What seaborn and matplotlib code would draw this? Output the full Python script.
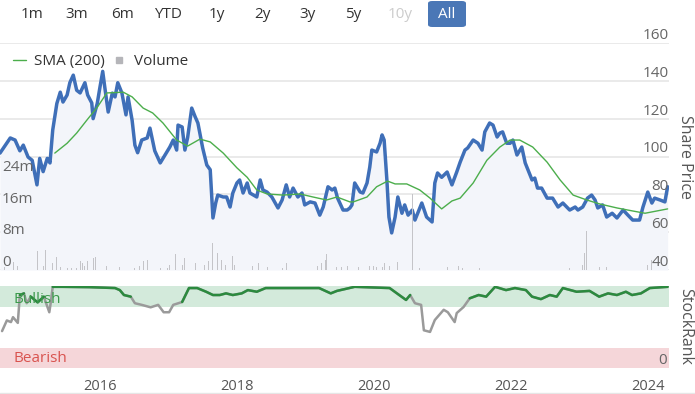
import numpy as np
import pandas as pd
import seaborn as sns
import matplotlib.pyplot as plt
from matplotlib.lines import Line2D
from matplotlib.patches import FancyBboxPatch

# share price (decimal year, price)
price_years = [2014.54, 2014.69, 2014.76, 2014.83, 2014.88, 2014.95, 2015.01, 2015.08, 2015.12, 2015.17,
               2015.23, 2015.27, 2015.31, 2015.37, 2015.42, 2015.46, 2015.52, 2015.56, 2015.61, 2015.66,
               2015.71, 2015.78, 2015.82, 2015.88, 2015.90, 2015.96, 2016.00, 2016.04, 2016.07, 2016.12,
               2016.18, 2016.22, 2016.26, 2016.32, 2016.38, 2016.41, 2016.47, 2016.51, 2016.55, 2016.61,
               2016.69, 2016.73, 2016.80, 2016.88, 2016.95, 2017.02, 2017.07, 2017.12, 2017.14, 2017.20,
               2017.24, 2017.28, 2017.34, 2017.39, 2017.43, 2017.50, 2017.56, 2017.61, 2017.65, 2017.69,
               2017.72, 2017.80, 2017.85, 2017.90, 2017.94, 2018.00, 2018.04, 2018.09, 2018.15, 2018.19,
               2018.29, 2018.34, 2018.38, 2018.44, 2018.51, 2018.60, 2018.66, 2018.72, 2018.77, 2018.82,
               2018.89, 2018.95, 2018.99, 2019.07, 2019.14, 2019.21, 2019.26, 2019.33, 2019.39, 2019.43,
               2019.47, 2019.55, 2019.61, 2019.65, 2019.68, 2019.72, 2019.80, 2019.84, 2019.90, 2019.94,
               2019.97, 2020.04, 2020.09, 2020.12, 2020.15, 2020.19, 2020.22, 2020.26, 2020.31, 2020.35,
               2020.41, 2020.45, 2020.50, 2020.56, 2020.60, 2020.64, 2020.70, 2020.77, 2020.85, 2020.89,
               2020.93, 2020.99, 2021.07, 2021.14, 2021.21, 2021.26, 2021.33, 2021.37, 2021.45, 2021.52,
               2021.58, 2021.62, 2021.69, 2021.74, 2021.80, 2021.84, 2021.88, 2021.94, 2021.99, 2022.03,
               2022.09, 2022.16, 2022.21, 2022.25, 2022.31, 2022.35, 2022.39, 2022.45, 2022.53, 2022.61,
               2022.69, 2022.76, 2022.86, 2022.94, 2022.98, 2023.05, 2023.12, 2023.18, 2023.23, 2023.27,
               2023.34, 2023.40, 2023.48, 2023.55, 2023.64, 2023.71, 2023.78, 2023.88, 2023.93, 2024.00,
               2024.06, 2024.10, 2024.18, 2024.25, 2024.29]
price_vals = [101.8, 109.8, 108.7, 103.0, 106.0, 99.7, 98.0, 85.0, 99.0, 92.0,
              99.0, 96.6, 114.0, 128.0, 134.0, 128.8, 132.5, 139.0, 143.0, 135.0,
              133.6, 139.0, 132.5, 128.3, 120.0, 128.0, 136.7, 145.0, 136.7, 123.5,
              133.5, 131.5, 139.0, 133.6, 122.0, 131.5, 119.0, 106.0, 102.0, 108.7,
              109.8, 115.0, 103.0, 96.6, 100.8, 105.0, 108.7, 103.4, 116.6, 115.6,
              103.4, 110.0, 125.6, 121.0, 117.7, 104.5, 95.5, 93.0, 67.5, 75.4,
              79.6, 78.6, 78.6, 73.3, 80.7, 86.0, 87.6, 80.7, 86.0, 80.7,
              78.6, 87.6, 82.3, 81.2, 78.6, 72.8, 77.0, 85.0, 78.6, 83.3,
              78.6, 80.7, 74.4, 76.0, 75.4, 69.0, 73.3, 84.0, 82.3, 83.3,
              78.0, 71.7, 71.7, 72.8, 74.4, 86.0, 81.2, 80.7, 86.0, 94.4,
              103.4, 102.4, 107.0, 111.4, 108.7, 87.6, 68.0, 59.6, 68.0, 78.6,
              70.0, 74.4, 69.0, 71.7, 66.4, 70.0, 75.4, 68.0, 65.4, 86.0,
              91.3, 89.0, 91.8, 85.0, 91.8, 97.0, 103.4, 104.5, 108.7, 107.0,
              103.4, 113.0, 117.7, 116.6, 110.3, 112.4, 113.0, 107.0, 107.0, 108.7,
              100.8, 105.0, 96.6, 93.0, 87.6, 88.6, 83.3, 83.3, 78.0, 78.0,
              73.3, 75.4, 71.7, 73.3, 71.7, 73.3, 78.0, 79.6, 77.0, 72.8,
              74.4, 68.0, 70.0, 67.5, 71.7, 69.0, 66.4, 66.4, 73.3, 81.2,
              75.4, 78.0, 77.0, 76.0, 84.0]

# 200 day simple moving average
sma_years = [2015.34, 2015.52, 2015.66, 2015.81, 2015.96, 2016.10, 2016.34, 2016.47, 2016.63, 2016.77,
             2016.92, 2017.12, 2017.28, 2017.46, 2017.61, 2017.80, 2018.00, 2018.15, 2018.29, 2018.44,
             2018.67, 2018.92, 2019.11, 2019.31, 2019.46, 2019.65, 2019.70, 2019.90, 2020.04, 2020.20,
             2020.31, 2020.48, 2020.67, 2020.82, 2020.99, 2021.14, 2021.26, 2021.45, 2021.65, 2021.84,
             2021.99, 2022.13, 2022.32, 2022.53, 2022.72, 2022.91, 2023.11, 2023.30, 2023.55, 2023.78,
             2023.96, 2024.29]
sma_vals = [101.8, 107.0, 112.4, 119.3, 126.0, 133.6, 134.0, 131.5, 125.6, 123.0,
            117.7, 108.7, 105.5, 109.2, 107.7, 101.8, 94.0, 89.0, 82.3, 80.2,
            79.6, 80.2, 78.6, 77.0, 78.6, 76.0, 76.0, 78.6, 84.0, 87.0,
            85.5, 85.5, 82.3, 78.0, 72.3, 76.5, 78.0, 86.0, 98.0, 105.0,
            108.7, 108.7, 105.0, 97.0, 87.6, 79.6, 77.0, 74.9, 72.8, 71.2,
            70.0, 72.3]

# StockRank history
rank_years = [2014.57, 2014.64, 2014.70, 2014.73, 2014.80, 2014.83, 2014.89, 2014.93, 2014.99, 2015.09,
              2015.18, 2015.26, 2015.28, 2015.31, 2015.45, 2015.84, 2016.22, 2016.29, 2016.35, 2016.45,
              2016.51, 2016.61, 2016.74, 2016.85, 2016.93, 2017.01, 2017.07, 2017.20, 2017.30, 2017.42,
              2017.55, 2017.65, 2017.75, 2017.84, 2017.94, 2018.07, 2018.16, 2018.29, 2018.42, 2018.74,
              2019.20, 2019.37, 2019.46, 2019.72, 2020.23, 2020.37, 2020.47, 2020.53, 2020.60, 2020.69,
              2020.73, 2020.82, 2020.89, 2021.02, 2021.08, 2021.18, 2021.21, 2021.31, 2021.40, 2021.53,
              2021.64, 2021.77, 2021.93, 2022.06, 2022.22, 2022.31, 2022.44, 2022.57, 2022.67, 2022.76,
              2022.96, 2023.15, 2023.29, 2023.42, 2023.55, 2023.68, 2023.77, 2023.90, 2024.03, 2024.29]
rank_vals = [45, 58, 56, 62, 55, 89, 91, 79, 87, 80,
             87, 68, 79, 99, 99, 98.6, 97.5, 95, 89, 87,
             79, 77, 74, 77, 68, 68, 77, 80.5, 97.5, 97.5,
             93, 89, 89, 91, 89, 91, 95, 93, 97.5, 97.5,
             97.5, 91, 94, 99, 97.5, 89, 83, 89, 79, 77,
             46, 44, 58.5, 71, 68, 56, 67, 74.4, 85, 89,
             87, 99, 95, 97.5, 95, 87, 84, 89, 87, 97.5,
             93, 94, 87, 91, 89, 93, 89, 91, 97.5, 99]

# daily volume, millions of shares
vol_years = [2014.61, 2014.74, 2014.80, 2014.86, 2015.05, 2015.09, 2015.17, 2015.21, 2015.27, 2015.30,
             2015.31, 2015.37, 2015.42, 2015.52, 2015.59, 2015.66, 2015.71, 2015.74, 2015.78, 2015.82,
             2015.87, 2015.90, 2015.93, 2016.03, 2016.09, 2016.16, 2016.29, 2016.41, 2016.51, 2016.58,
             2016.64, 2016.69, 2016.73, 2016.88, 2016.99, 2017.02, 2017.10, 2017.14, 2017.20, 2017.24,
             2017.30, 2017.33, 2017.39, 2017.46, 2017.53, 2017.58, 2017.64, 2017.68, 2017.72, 2017.78,
             2017.83, 2017.90, 2017.94, 2017.97, 2018.09, 2018.23, 2018.31, 2018.41, 2018.45, 2018.67,
             2018.73, 2019.18, 2019.24, 2019.29, 2019.31, 2019.36, 2019.46, 2019.53, 2019.62, 2019.77,
             2019.90, 2019.94, 2019.99, 2020.04, 2020.09, 2020.13, 2020.16, 2020.23, 2020.28, 2020.35,
             2020.57, 2020.67, 2020.79, 2020.85, 2021.01, 2021.08, 2021.23, 2021.30, 2021.54, 2021.74,
             2022.25, 2022.69, 2022.86, 2023.05, 2023.08, 2023.11, 2023.23, 2023.30, 2023.40, 2023.61,
             2023.96, 2024.00, 2024.06]
vol_m = [0.7, 2.0, 1.0, 1.0, 1.3, 4.8, 1.0, 5.0, 1.3, 3.0,
         1.8, 3.3, 0.8, 0.5, 0.5, 0.5, 2.3, 1.8, 1.0, 2.3,
         3.0, 3.0, 3.3, 0.8, 1.0, 2.5, 0.8, 0.5, 0.5, 1.0,
         2.3, 2.5, 1.5, 0.5, 0.5, 1.3, 4.0, 2.3, 1.3, 3.0,
         6.8, 3.3, 1.8, 1.3, 1.3, 2.3, 6.8, 2.5, 4.3, 2.5,
         1.3, 1.5, 3.5, 1.3, 0.8, 1.0, 1.8, 1.0, 0.8, 0.5,
         1.8, 1.0, 1.8, 2.5, 4.0, 1.3, 0.8, 0.8, 1.0, 0.8,
         1.0, 1.0, 1.0, 0.8, 1.3, 0.8, 1.8, 1.0, 0.8, 2.0,
         19.2, 0.5, 0.8, 0.5, 0.5, 0.8, 1.0, 0.5, 0.5, 0.8,
         0.8, 0.5, 0.5, 1.3, 4.3, 9.8, 0.8, 0.8, 0.8, 0.5,
         0.8, 1.3, 2.5]

price_ticks = [40, 60, 80, 100, 120, 140, 160]
vol_ticks = [0, 8, 16, 24]
rank_ticks = [0]
year_ticks = [2016, 2018, 2020, 2022, 2024]
buttons = ["1m", "3m", "6m", "YTD", "1y", "2y", "3y", "5y", "10y", "All"]

sns.set_style("white")
plt.rcParams['font.family'] = ['Open Sans', 'DejaVu Sans']

price_df = pd.DataFrame({'year': price_years, 'price': price_vals})
sma_df = pd.DataFrame({'year': sma_years, 'sma': sma_vals})
rank_df = pd.DataFrame({'year': rank_years, 'rank': rank_vals})

W, H = 695, 394
fig = plt.figure(figsize=(W / 100, H / 100), dpi=100)
xlim = (2014.54, 2024.31)
blue = '#3f6fb8'
green_sma = '#4cae4c'
lab_col = '#666666'

# ---- price panel ----
ax = fig.add_axes([0, 1 - 270 / H, 669 / W, 227 / H])
ax.fill_between(price_years, price_vals, 40, color='#f3f5fa', lw=0)
sns.lineplot(data=price_df, x='year', y='price', ax=ax, color=blue, lw=2.5, zorder=4)
sns.lineplot(data=sma_df, x='year', y='sma', ax=ax, color=green_sma, lw=1, zorder=5)
ax.set_xlim(*xlim)
ax.set_ylim(40, 160)
ax.set_xticks([])
ax.set_yticks(price_ticks, [])
ax.tick_params(axis='y', length=0)
ax.set_xlabel('')
ax.set_ylabel('')
ax.grid(axis='y', color='#e6e6e6', lw=1.2)
for s in ax.spines.values():
    s.set_visible(False)
# price labels sit just above their grid lines, inside the right edge
for p in price_ticks:
    ax.text(1.0, p, str(p), transform=ax.get_yaxis_transform(), ha='right', va='bottom',
            fontsize=11, color=lab_col, zorder=6)

# volume on a twin axis, labels inside on the left
axv = ax.twinx()
axv.bar(vol_years, vol_m, width=0.012, color='#c4c4c8', lw=0)
axv.set_ylim(0, 57.3)
axv.set_xlim(*xlim)
axv.set_yticks([])
for s in axv.spines.values():
    s.set_visible(False)
for v in vol_ticks:
    axv.text(0.003, v, f"{v}m" if v else "0", transform=axv.get_yaxis_transform(),
             ha='left', va='bottom', fontsize=11, color=lab_col)

axv.legend(handles=[Line2D([], [], color=green_sma, lw=1),
                    Line2D([], [], ls='', marker='s', markersize=5, color='#b5b5b9')],
           labels=['SMA (200)', 'Volume'], loc='upper left', bbox_to_anchor=(0.005, 0.99),
           ncol=2, frameon=False, fontsize=11, handlelength=0.9, handletextpad=0.5,
           columnspacing=0.5, borderaxespad=0.2, labelcolor='#333333')

# ---- StockRank panel ----
axr = fig.add_axes([0, 1 - 368 / H, 669 / W, 82 / H])
axr.axhspan(75, 100, color='#d3eadb', lw=0)
axr.axhspan(0, 25, color='#f5d6d9', lw=0)
rank_df['good'] = rank_df['rank'] >= 80
rank_df['run'] = (rank_df['good'] != rank_df['good'].shift()).cumsum()
sns.lineplot(data=rank_df, x='year', y='rank', ax=axr, color='#9a9a9a', lw=1.8)
sns.lineplot(data=rank_df[rank_df['good']], x='year', y='rank', units='run', estimator=None,
             ax=axr, color='#2b8a3e', lw=1.8)
axr.text(2014.73, 84, 'Bullish', color='#3c9a4c', fontsize=11, va='center')
axr.text(2014.73, 11, 'Bearish', color='#d9534f', fontsize=11, va='center')
for r in rank_ticks:
    axr.text(0.997, r, str(r), transform=axr.get_yaxis_transform(), ha='right', va='bottom',
             fontsize=11, color=lab_col)
axr.set_xlim(*xlim)
axr.set_ylim(0, 100)
axr.set_yticks([])
axr.set_xticks(year_ticks, [str(y) for y in year_ticks])
axr.tick_params(axis='x', length=8, width=1, color='#cccccc', labelsize=10.5,
                labelcolor='#555555', pad=0)
axr.set_xlabel('')
axr.set_ylabel('')
for s in axr.spines.values():
    s.set_visible(False)

fig.text(685 / W, 1 - 157 / H, 'Share Price', rotation=270, ha='center', va='center',
         fontsize=11.5, color='#555555')
fig.text(685 / W, 1 - 326 / H, 'StockRank', rotation=270, ha='center', va='center',
         fontsize=11.5, color='#555555')

# range selector buttons
btn_x = [32, 77, 123, 168, 217, 262, 307, 353, 400, 447]
fig.patches.append(FancyBboxPatch((428 / W, 1 - 27 / H), 38 / W, 26 / H,
                                  boxstyle='round,pad=0,rounding_size=0.006',
                                  transform=fig.transFigure, color='#4a77b6', lw=0))
for bx, b in zip(btn_x, buttons):
    c = '#ffffff' if b == 'All' else ('#cccccc' if b == '10y' else '#333333')
    fig.text(bx / W, 1 - 14 / H, b, ha='center', va='center', fontsize=11, color=c)

fig.add_artist(Line2D([0, 1], [1 - 393 / H] * 2, color='#e6e6e6', lw=1))

fig.savefig('out.png', dpi=100)
